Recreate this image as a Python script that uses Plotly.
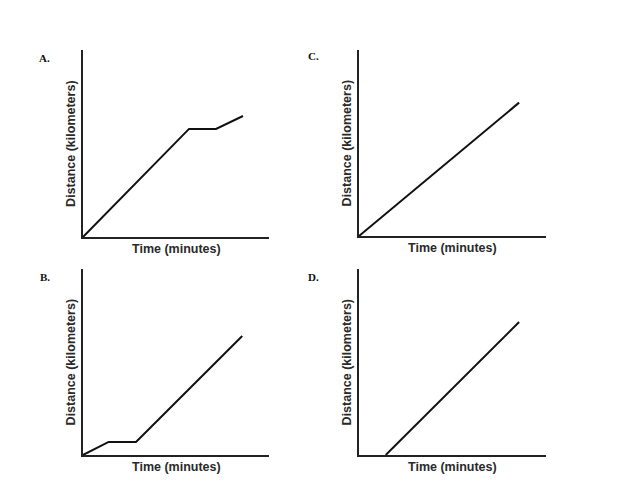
import plotly.graph_objects as go

# distance-time graphs, arbitrary units (axes run 0..10)
a_time = [0, 5.7, 7.15, 8.6]
a_dist = [0, 5.78, 5.78, 6.47]

b_time = [0, 1.38, 2.85, 8.56]
b_dist = [0, 0.70, 0.70, 6.40]

c_time = [0, 8.56]
c_dist = [0, 7.17]

d_time = [1.43, 8.56]
d_dist = [0, 7.15]

panel_names = ["A.", "B.", "C.", "D."]
x_title = "Time (minutes)"
y_title = "Distance (kilometers)"

# paper domains for each panel (x, y); page body adds an 8px offset
doms = {
    "A.": ([0.1196, 0.4163], [0.5429, 0.9162]),
    "B.": ([0.1196, 0.4163], [0.1078, 0.4790]),
    "C.": ([0.5598, 0.8581], [0.5449, 0.9162]),
    "D.": ([0.5598, 0.8581], [0.1078, 0.4790]),
}
# panel letter offset from the axis corner (x, y)
label_off = {"A.": (-0.0606, -0.016), "B.": (-0.0606, -0.016),
             "C.": (-0.0718, -0.012), "D.": (-0.0718, -0.016)}
series = {"A.": (a_time, a_dist), "B.": (b_time, b_dist),
          "C.": (c_time, c_dist), "D.": (d_time, d_dist)}

fig = go.Figure()
axis_font = dict(family="Liberation Sans, Arial", size=12.5, color="#2a2a2a")

for i, name in enumerate(panel_names):
    n = "" if i == 0 else str(i + 1)
    xd, yd = doms[name]
    xs, ys = series[name]
    fig.add_trace(go.Scatter(x=xs, y=ys, mode="lines", xaxis="x" + n, yaxis="y" + n,
                             line=dict(color="#111", width=2), showlegend=False,
                             hoverinfo="skip"))
    ax = dict(domain=xd, range=[0, 10], showline=True, linecolor="#222", linewidth=1.5,
              showgrid=False, zeroline=False, showticklabels=False, ticks="",
              anchor="y" + n, fixedrange=True)
    ay = dict(domain=yd, range=[0, 10], showline=True, linecolor="#222", linewidth=1.5,
              showgrid=False, zeroline=False, showticklabels=False, ticks="",
              anchor="x" + n, fixedrange=True)
    fig.layout["xaxis" + n] = ax
    fig.layout["yaxis" + n] = ay

    xmid = (xd[0] + xd[1]) / 2
    fig.add_annotation(x=xmid, y=yd[0] - 0.024, xref="paper", yref="paper",
                       text="<b>" + x_title + "</b>", showarrow=False, font=axis_font,
                       xanchor="center", yanchor="middle")
    fig.add_annotation(x=xd[0] - 0.0185, y=(yd[0] + yd[1]) / 2, xref="paper", yref="paper",
                       text="<b>" + y_title + "</b>", showarrow=False, font=axis_font,
                       textangle=-90, xanchor="center", yanchor="middle")
    lx, ly = label_off[name]
    fig.add_annotation(x=xd[0] + lx, y=yd[1] + ly, xref="paper", yref="paper",
                       text="<b>" + name + "</b>", showarrow=False,
                       font=dict(family="Liberation Serif, Times New Roman", size=11, color="#111"),
                       xanchor="center", yanchor="middle")

fig.update_layout(width=627, height=501, margin=dict(l=0, r=0, t=0, b=0),
                  paper_bgcolor="white", plot_bgcolor="white")

fig.write_html("out.html")
